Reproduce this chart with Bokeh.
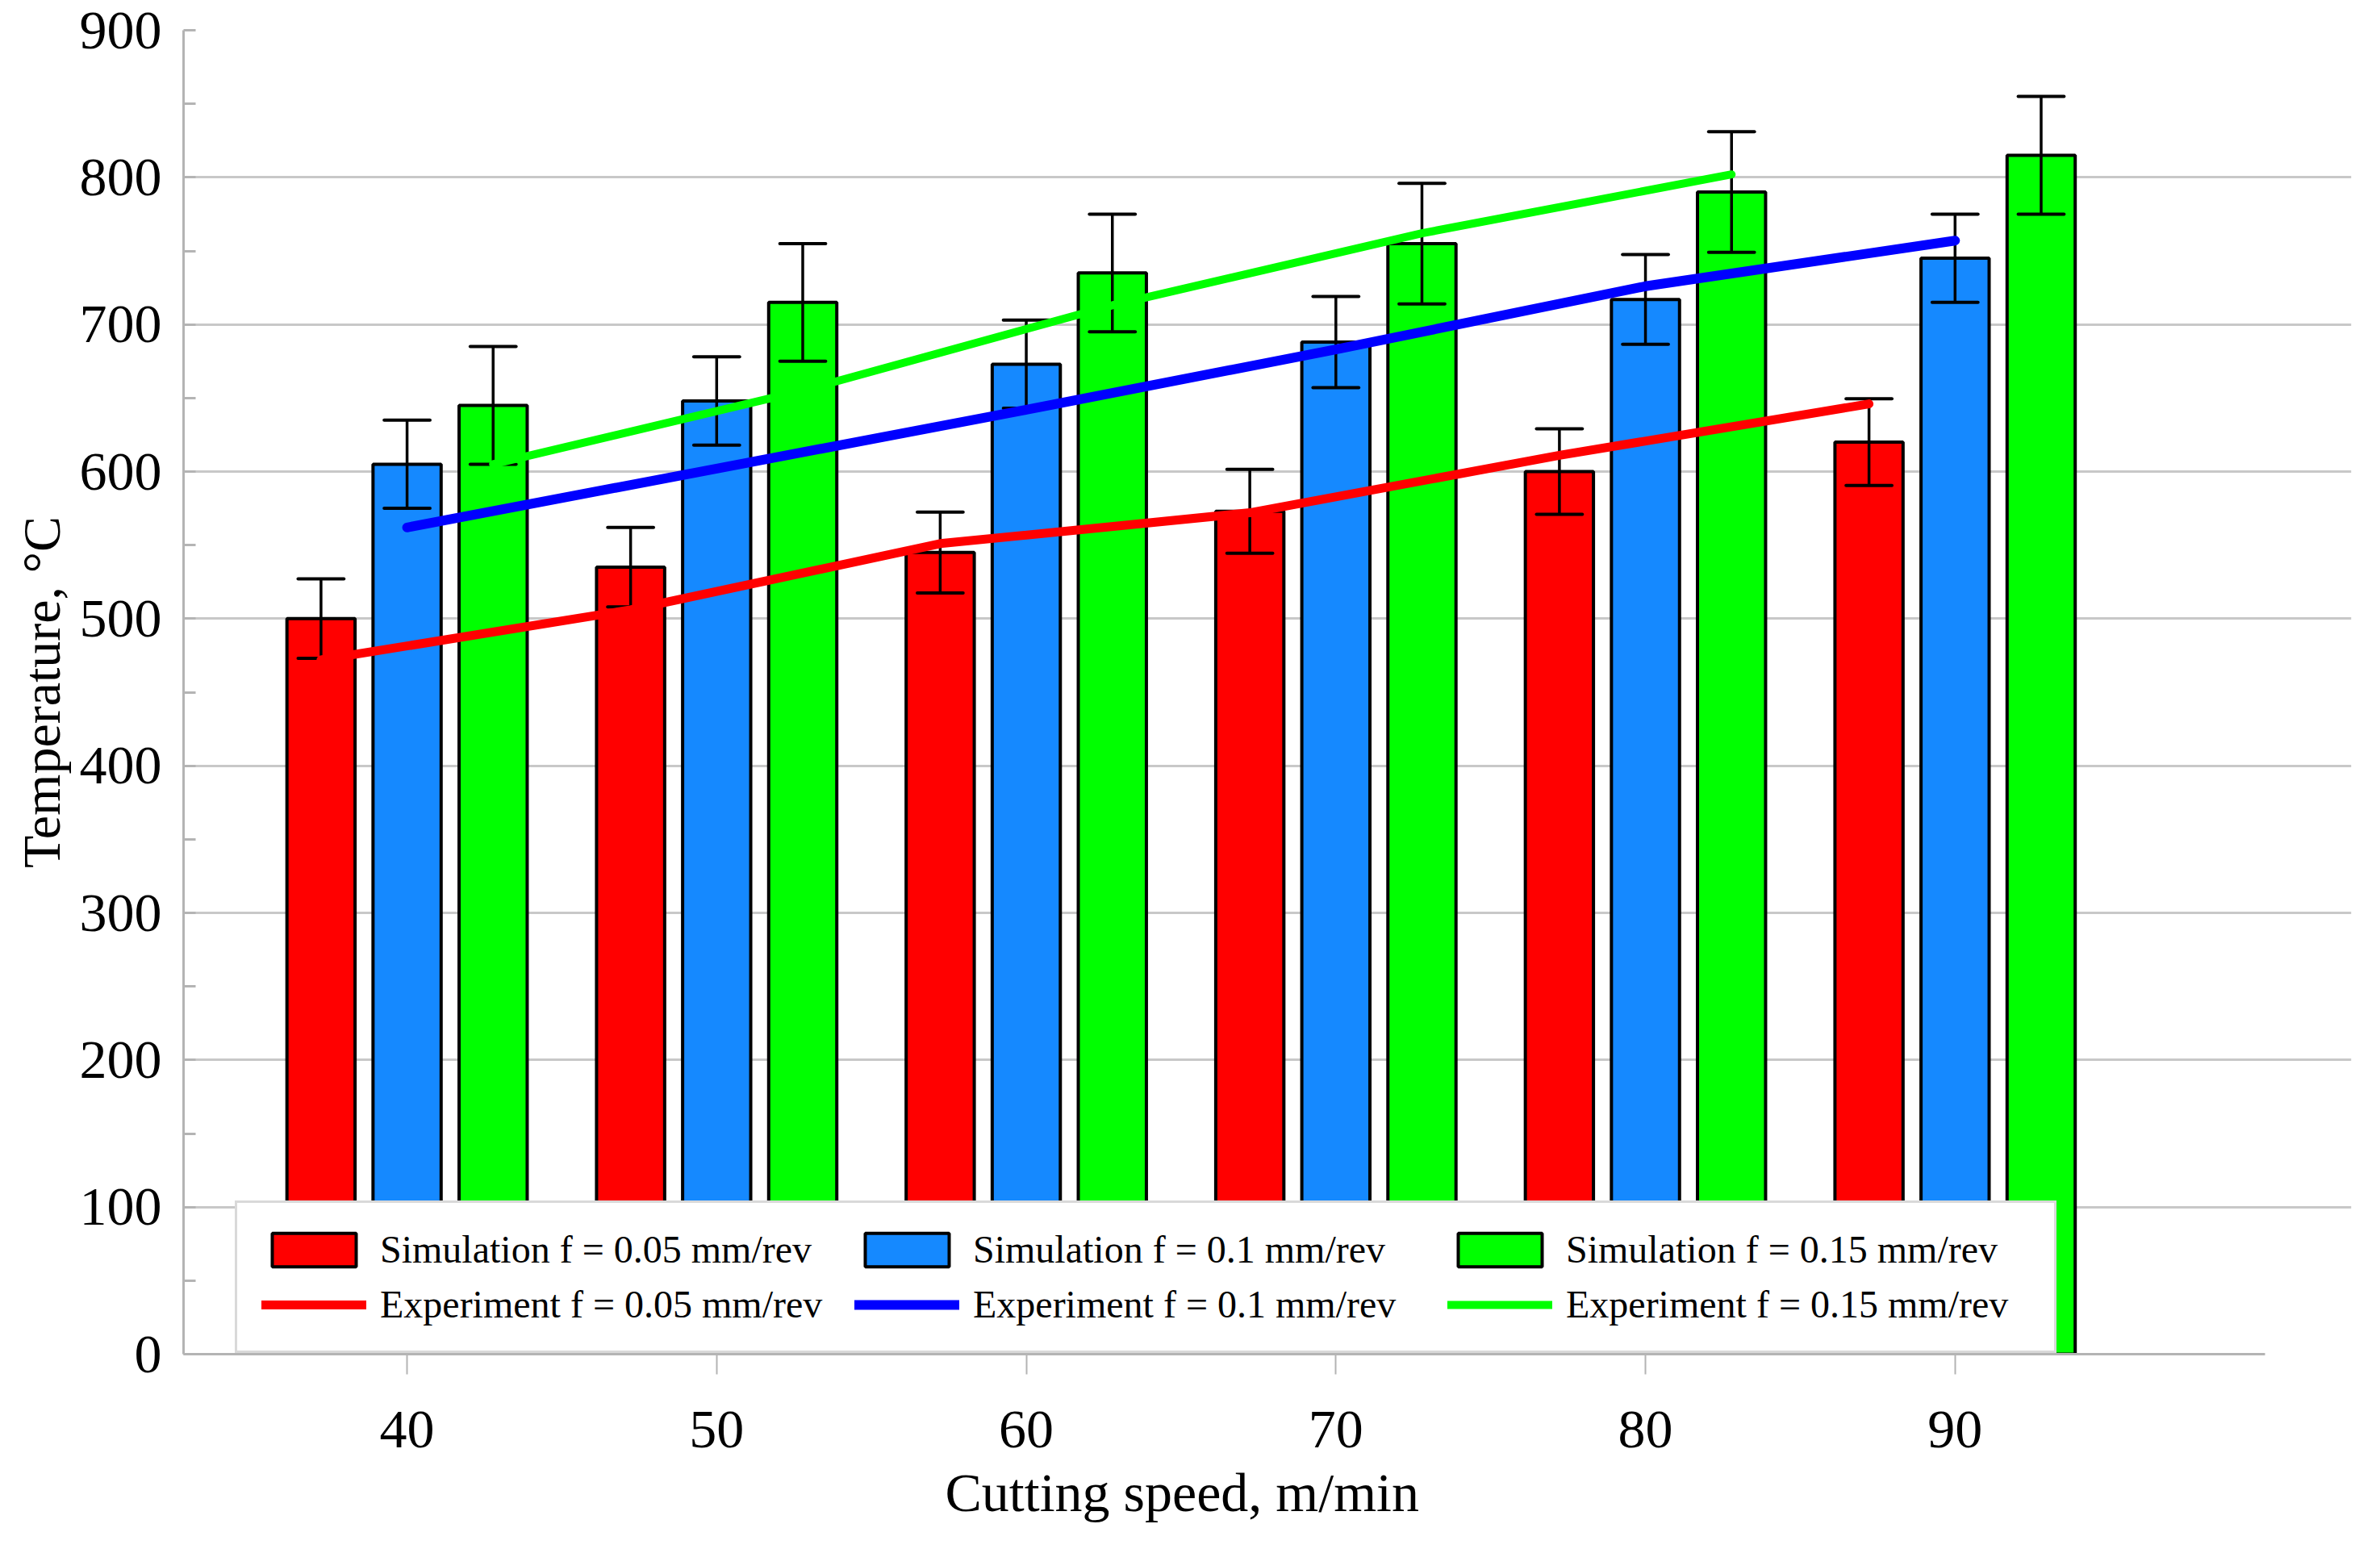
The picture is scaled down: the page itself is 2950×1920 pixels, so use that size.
import numpy as np
from bokeh.plotting import figure
from bokeh.models import (Range1d, FixedTicker, SingleIntervalTicker, Legend,
                          LegendItem, Title)
from bokeh.embed import file_html
from bokeh.resources import INLINE

# ---------------- data ----------------
speeds = [40, 50, 60, 70, 80, 90]
speeds_exp_015 = [40, 50, 60, 70, 80]

sim_005 = [500, 535, 545, 573, 600, 620]
sim_01 = [605, 648, 673, 688, 717, 745]
sim_015 = [645, 715, 735, 755, 790, 815]

err_005 = [27, 27, 27.5, 28.5, 29, 29.5]
err_01 = [30, 30, 30, 31, 30.5, 30]
err_015 = [40, 40, 40, 41, 41, 40]

exp_005 = [472, 506, 551, 572, 611, 646]
exp_01 = [562, 602, 642, 683, 726, 757]
exp_015 = [605, 655, 713, 762, 802]

x_ticks = [40, 50, 60, 70, 80, 90]

# ---------------- style ----------------
FONT = "Liberation Serif"
RED = "#FF0000"
BLUE_BAR = "#1589FF"
BLUE_LINE = "#0000FF"
GREEN = "#00FF00"
AXIS_GRAY = "#B4B4B4"
GRID_GRAY = "#C8C8C8"
OFFSET = 2.78
BAR_W = 2.2
CAP_HALF = 0.74

p = figure(frame_width=2687, frame_height=1641,
           min_border_left=227, min_border_top=37,
           min_border_right=20, min_border_bottom=226,
           x_range=Range1d(32.78, 102.8), y_range=Range1d(0, 900),
           output_backend="svg", toolbar_location=None)
p.outline_line_color = None
p.background_fill_color = "white"
p.border_fill_color = "white"

# grid
p.xgrid.grid_line_color = None
p.ygrid.grid_line_color = GRID_GRAY
p.ygrid.grid_line_width = 3

# y axis
yt = SingleIntervalTicker(interval=100, num_minor_ticks=2)
p.yaxis.ticker = yt
p.ygrid.ticker = yt
p.yaxis.axis_line_color = AXIS_GRAY
p.yaxis.axis_line_width = 3
p.yaxis.major_tick_in = 0
p.yaxis.major_tick_out = 0
p.yaxis.minor_tick_in = 15
p.yaxis.minor_tick_out = 0
p.yaxis.minor_tick_line_color = AXIS_GRAY
p.yaxis.minor_tick_line_width = 3
p.yaxis.major_label_standoff = 27
p.yaxis.major_label_text_font = FONT
p.yaxis.major_label_text_font_size = "68px"
p.yaxis.major_label_text_color = "black"
p.yaxis.axis_label = "Temperature, °C"
p.yaxis.axis_label_text_font = FONT
p.yaxis.axis_label_text_font_size = "66px"
p.yaxis.axis_label_text_font_style = "normal"
p.yaxis.axis_label_text_color = "black"
p.yaxis.axis_label_standoff = 8

# x axis
p.xaxis.ticker = FixedTicker(ticks=x_ticks)
p.xaxis.bounds = (32.78, 100)
p.xaxis.axis_line_color = AXIS_GRAY
p.xaxis.axis_line_width = 3
p.xaxis.major_tick_in = 0
p.xaxis.major_tick_out = 25
p.xaxis.major_tick_line_color = AXIS_GRAY
p.xaxis.major_tick_line_width = 2
p.xaxis.minor_tick_line_color = None
p.xaxis.major_label_standoff = 46
p.xaxis.major_label_text_font = FONT
p.xaxis.major_label_text_font_size = "68px"
p.xaxis.major_label_text_color = "black"

# x title (placed below the axis, shifted left like the original)
p.add_layout(Title(text="Cutting speed, m/min", align="left", offset=944,
                   standoff=26, text_font=FONT, text_font_size="68px",
                   text_font_style="normal", text_color="black"), "below")

# ---------------- bars ----------------
sx = np.array(speeds, dtype=float)
series = [
    (sx - OFFSET, sim_005, err_005, RED),
    (sx, sim_01, err_01, BLUE_BAR),
    (sx + OFFSET, sim_015, err_015, GREEN),
]
bar_renderers = []
for xs, vals, errs, col in series:
    r = p.vbar(x=xs, top=vals, bottom=0, width=BAR_W, fill_color=col,
               line_color="black", line_width=4)
    bar_renderers.append(r)

# error bars
for xs, vals, errs, col in series:
    v = np.array(vals, dtype=float)
    e = np.array(errs, dtype=float)
    p.segment(x0=xs, y0=v - e, x1=xs, y1=v + e, line_color="black",
              line_width=3.5)
    p.segment(x0=xs - CAP_HALF, y0=v + e, x1=xs + CAP_HALF, y1=v + e,
              line_color="black", line_width=4, line_cap="round")
    p.segment(x0=xs - CAP_HALF, y0=v - e, x1=xs + CAP_HALF, y1=v - e,
              line_color="black", line_width=4, line_cap="round")

# ---------------- experiment lines ----------------
l1 = p.line(x=sx - OFFSET, y=exp_005, line_color=RED, line_width=11,
            line_cap="round", line_join="round")
l2 = p.line(x=sx, y=exp_01, line_color=BLUE_LINE, line_width=12,
            line_cap="round", line_join="round")
l3 = p.line(x=np.array(speeds_exp_015, dtype=float) + OFFSET, y=exp_015,
            line_color=GREEN, line_width=10, line_cap="round", line_join="round")

# ---------------- legend ----------------
items = [
    LegendItem(label="Simulation f = 0.05 mm/rev", renderers=[bar_renderers[0]]),
    LegendItem(label="Experiment f = 0.05 mm/rev", renderers=[l1]),
    LegendItem(label="Simulation f = 0.1 mm/rev", renderers=[bar_renderers[1]]),
    LegendItem(label="Experiment f = 0.1 mm/rev", renderers=[l2]),
    LegendItem(label="Simulation f = 0.15 mm/rev", renderers=[bar_renderers[2]]),
    LegendItem(label="Experiment f = 0.15 mm/rev", renderers=[l3]),
]
legend = Legend(items=items, location=(64, 1), orientation="vertical", nrows=2,
                border_line_color=AXIS_GRAY, border_line_width=3,
                background_fill_color="white", background_fill_alpha=1.0,
                padding=30, spacing=13, margin=0, label_standoff=17,
                glyph_width=130, glyph_height=52, label_width=575,
                label_text_font=FONT, label_text_font_size="48px",
                label_text_color="black")
p.add_layout(legend)

open("out.html", "w").write(file_html(p, INLINE))
